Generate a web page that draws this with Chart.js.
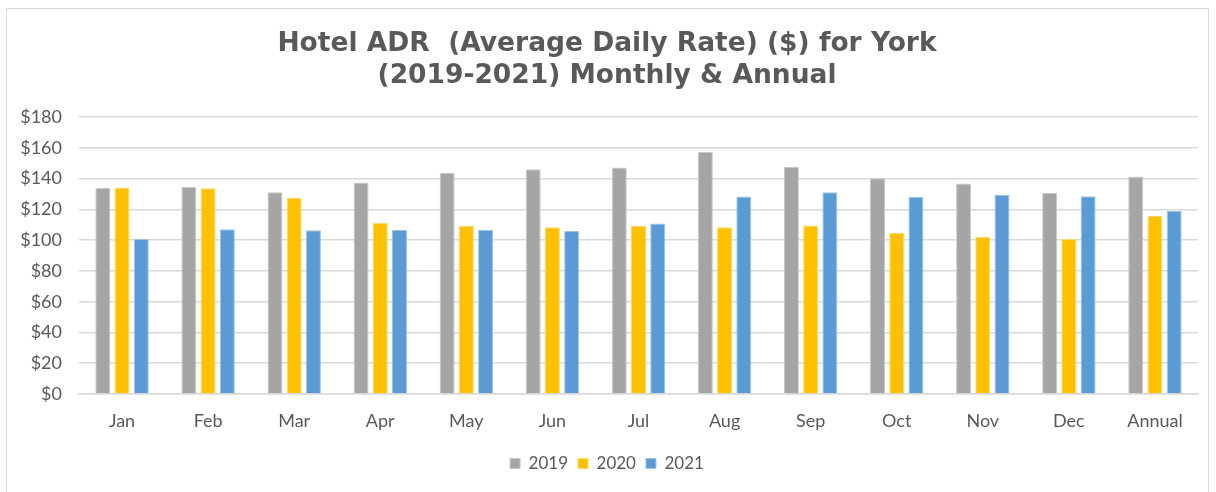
<!DOCTYPE html>
<html>
<head>
<meta charset="utf-8">
<script src="https://cdn.jsdelivr.net/npm/chart.js@4"></script>
<style>
  html, body { margin: 0; padding: 0; background: #fff; }
  #wrap { position: relative; width: 1216px; height: 492px; overflow: hidden; }
  #frame { position: absolute; left: 6px; top: 8px; width: 1203px; height: 500px; border: 1px solid #d9d9d9; box-sizing: border-box; }
  canvas { position: absolute; left: 0; top: 0; }
</style>
</head>
<body>
<div id="wrap">
  <div id="frame"></div>
  <canvas id="barChart" width="1216" height="492"></canvas>
</div>
<script>
// categories and values
var months = ['Jan', 'Feb', 'Mar', 'Apr', 'May', 'Jun', 'Jul', 'Aug', 'Sep', 'Oct', 'Nov', 'Dec', 'Annual'];
var adr2019 = [134.0, 134.7, 131.2, 137.5, 143.8, 146.1, 147.2, 157.3, 147.6, 140.3, 136.8, 130.6, 141.4];
var adr2020 = [134.3, 133.8, 127.6, 111.4, 109.2, 108.4, 109.4, 108.4, 109.6, 104.9, 102.1, 100.8, 115.9];
var adr2021 = [100.8, 107.1, 106.4, 106.6, 106.6, 106.0, 110.9, 128.4, 131.2, 128.2, 129.5, 128.6, 118.9];
var yTicks = [0, 20, 40, 60, 80, 100, 120, 140, 160, 180];

var textColor = '#595959';
var fontFamily = 'Lato, "Open Sans", sans-serif';

function series(label, values, fill, edge) {
    return {
        label: label,
        data: values,
        backgroundColor: fill,
        borderColor: edge,
        borderWidth: 1,
        categoryPercentage: 0.67,
        barPercentage: 0.78,
    };
}

var data = {
    labels: months,
    datasets: [
        series('2019', adr2019, '#a5a5a5', '#c9c9c9'),
        series('2020', adr2020, '#ffc000', '#ffd966'),
        series('2021', adr2021, '#5b9bd5', '#9dc3e6'),
    ]
};

var barConfig = {
    type: 'bar',
    data: data,
    options: {
        responsive: false,
        animation: false,
        layout: { padding: { left: 16, right: 18, top: 0, bottom: 10 } },
        plugins: {
            title: {
                display: true,
                text: ['Hotel ADR  (Average Daily Rate) ($) for York', '(2019-2021) Monthly & Annual'],
                color: textColor,
                font: { family: '"DejaVu Sans", sans-serif', size: 26.5, weight: 'bold', lineHeight: 1.21 },
                padding: { top: 28, bottom: 25 },
            },
            legend: {
                position: 'bottom',
                labels: {
                    color: textColor,
                    font: { family: fontFamily, size: 17 },
                    boxWidth: 10,
                    boxHeight: 10,
                    padding: 10,
                },
            },
            tooltip: { enabled: false },
        },
        scales: {
            x: {
                grid: { display: false },
                border: { color: '#d9d9d9', width: 1.5 },
                ticks: { color: textColor, font: { family: fontFamily, size: 18 }, padding: 8 },
                afterFit: function (scale) { scale.height = 51; },
            },
            y: {
                min: 0,
                max: 180,
                afterBuildTicks: function (scale) {
                    scale.ticks = yTicks.map(function (v) { return { value: v }; });
                },
                grid: { color: '#d9d9d9', lineWidth: 1.5, drawTicks: false },
                border: { display: false },
                ticks: {
                    color: textColor,
                    font: { family: fontFamily, size: 18 },
                    padding: 17,
                    callback: function (v) { return '$' + v; },
                },
                afterFit: function (scale) { scale.width = 63; },
            },
        },
    },
};

var barChart = new Chart(document.getElementById('barChart'), barConfig);
</script>
</body>
</html>
